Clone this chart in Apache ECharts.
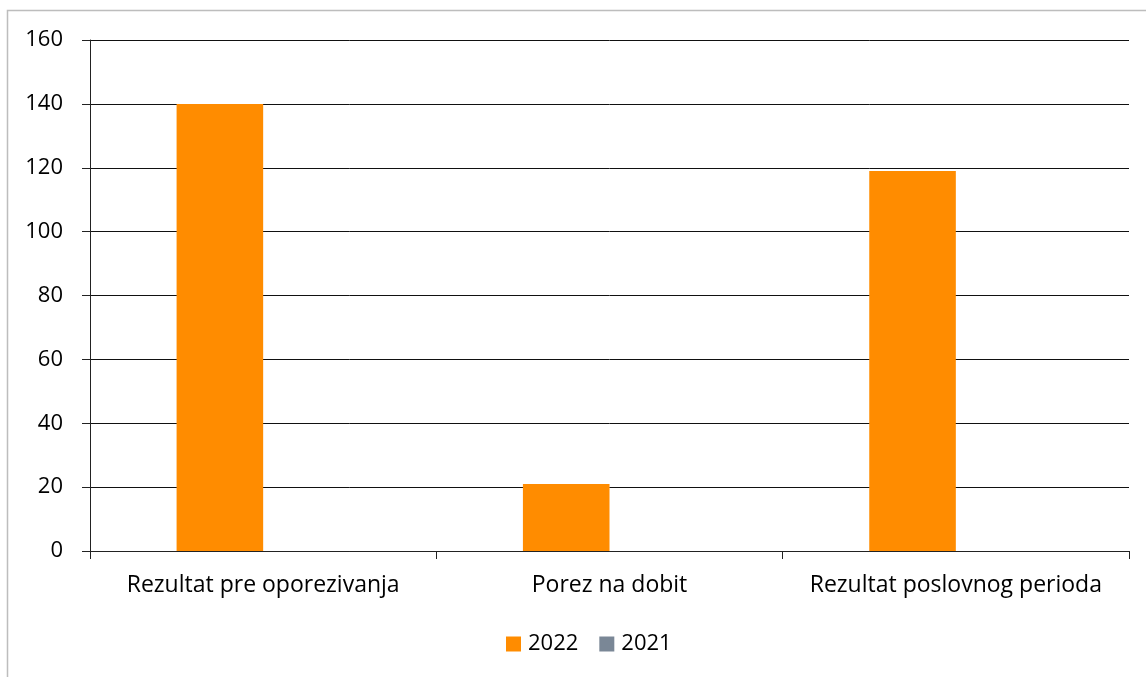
<!DOCTYPE html>
<html><head><meta charset="utf-8">
<script src="https://cdn.jsdelivr.net/npm/echarts@6/dist/echarts.min.js"></script>
<style>html,body{margin:0;padding:0;background:#fff}#c{width:1146px;height:677px}</style>
</head><body><div id="c"></div>
<script>
const categories = ['Rezultat pre oporezivanja', 'Porez na dobit', 'Rezultat poslovnog perioda'];
const seriesNames = ['2022', '2021'];
const values2022 = [140, 21, 119];
const values2021 = [0, 0, 0];
const yTicks = [0, 20, 40, 60, 80, 100, 120, 140, 160];

const font = '"Open Sans", sans-serif';
const chart = echarts.init(document.getElementById('c'), null, {renderer: 'canvas'});
chart.setOption({
  animation: false,
  backgroundColor: '#fff',
  textStyle: {fontFamily: font},
  graphic: [{
    type: 'polyline', silent: true,
    shape: {points: [[7.5, 677], [7.5, 10.5], [1146, 10.5]]},
    style: {stroke: '#bdbdbd', lineWidth: 1.5, fill: null}
  }],
  grid: {left: 90, right: 17, top: 40, bottom: 126, containLabel: false},
  legend: {
    data: seriesNames, bottom: 17, left: 501, icon: 'rect',
    itemWidth: 15, itemHeight: 15, itemGap: 21,
    textStyle: {fontSize: 22, color: '#000', fontFamily: font, padding: [0, 0, 0, 2]}
  },
  xAxis: {
    type: 'category', data: categories,
    axisLine: {lineStyle: {color: '#222', width: 1}},
    axisTick: {show: true, length: 8, alignWithLabel: false, interval: 0, lineStyle: {color: '#222'}},
    axisLabel: {fontSize: 23, color: '#000', margin: 23, interval: 0, fontFamily: font}
  },
  yAxis: {
    type: 'value', min: yTicks[0], max: yTicks[yTicks.length - 1], interval: 20,
    axisLine: {show: true, lineStyle: {color: '#222', width: 1}},
    axisTick: {show: true, length: 8, lineStyle: {color: '#222'}},
    axisLabel: {fontSize: 22, color: '#000', margin: 27, fontFamily: font},
    splitLine: {lineStyle: {color: '#111', width: 1}}
  },
  series: [
    {name: seriesNames[0], type: 'bar', data: values2022, barGap: '0%', barCategoryGap: '50%',
     itemStyle: {color: '#ff8c00'}},
    {name: seriesNames[1], type: 'bar', data: values2021, barGap: '0%', barCategoryGap: '50%',
     itemStyle: {color: '#7a8796'}}
  ]
});
</script></body></html>
